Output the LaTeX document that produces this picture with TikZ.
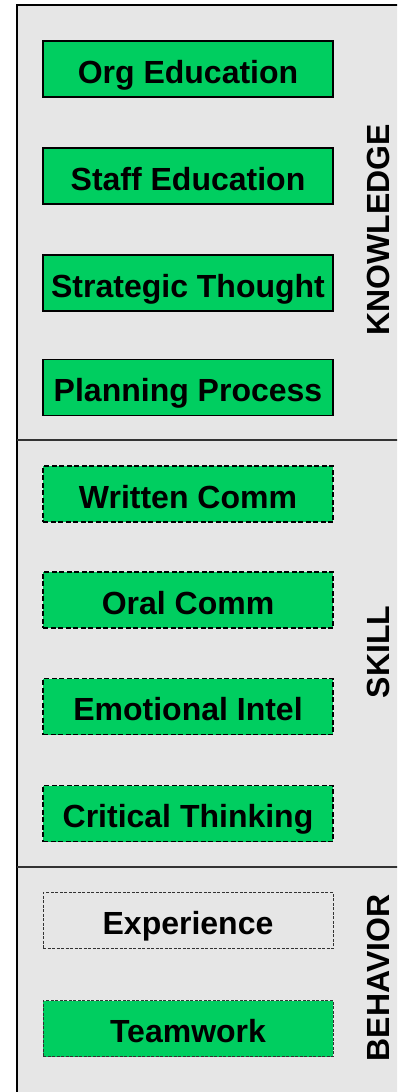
\documentclass[tikz,border=0pt]{standalone}
\usepackage{fontspec}
\setmainfont{Liberation Sans}
\usepackage{xcolor}
\usetikzlibrary{positioning}
\definecolor{boxgreen}{RGB}{0,206,96}
\definecolor{panelgrey}{RGB}{230,230,230}

\tikzset{
  x=1pt, y=-1pt,
  compbox/.style={minimum width=290pt, minimum height=56pt, inner sep=0pt,
    text height=28pt, text depth=0pt,
    font=\fontsize{32}{36}\selectfont\bfseries},
  knowbox/.style={compbox, fill=boxgreen, draw=black, line width=1.3pt},
  skillbox/.style={compbox, fill=boxgreen, draw=black, line width=1.2pt, dash pattern=on 5pt off 2.5pt},
  behavbox/.style={compbox, draw=black!80, line width=0.8pt, dash pattern=on 3pt off 1.5pt},
  grouplabel/.style={rotate=90, font=\fontsize{32}{36}\selectfont\bfseries}
}

\begin{document}
\begin{tikzpicture}
  \useasboundingbox (0,0) rectangle (397,1092);
  % panel
  \begin{scope}
    \clip (0,0) rectangle (397,1092);
    \draw[fill=panelgrey, line width=2pt] (16.5,4.5) rectangle (420,1120);
    \draw[line width=1.5pt, black!80] (16.5,440) -- (420,440);
    \draw[line width=1.5pt, black!80] (16.5,867) -- (420,867);
  \end{scope}

  % knowledge
  \node[knowbox] (orgedu) at (188,69) {Org Education};
  \node[knowbox] (staffedu) at (188,176) {Staff Education};
  \node[knowbox] (strat) at (188,283) {Strategic Thought};
  \node[knowbox] (plan) at (188,387.5) {Planning Process};

  % skill
  \node[skillbox] (written) at (188,494) {Written Comm};
  \node[skillbox] (oral) at (188,600) {Oral Comm};
  \node[skillbox] (emotion) at (188,706.5) {Emotional Intel};
  \node[skillbox] (critical) at (188,813.5) {Critical Thinking};

  % behavior
  \node[behavbox, fill=panelgrey] (exper) at (188,920.5) {Experience};
  \node[behavbox, fill=boxgreen] (team) at (188,1028.5) {Teamwork};

  % group labels
  \node[grouplabel] (knowlabel) at (378,230) {KNOWLEDGE};
  \node[grouplabel] (skilllabel) at (378,652) {SKILL};
  \node[grouplabel] (behavlabel) at (378,978) {BEHAVIOR};
\end{tikzpicture}
\end{document}
